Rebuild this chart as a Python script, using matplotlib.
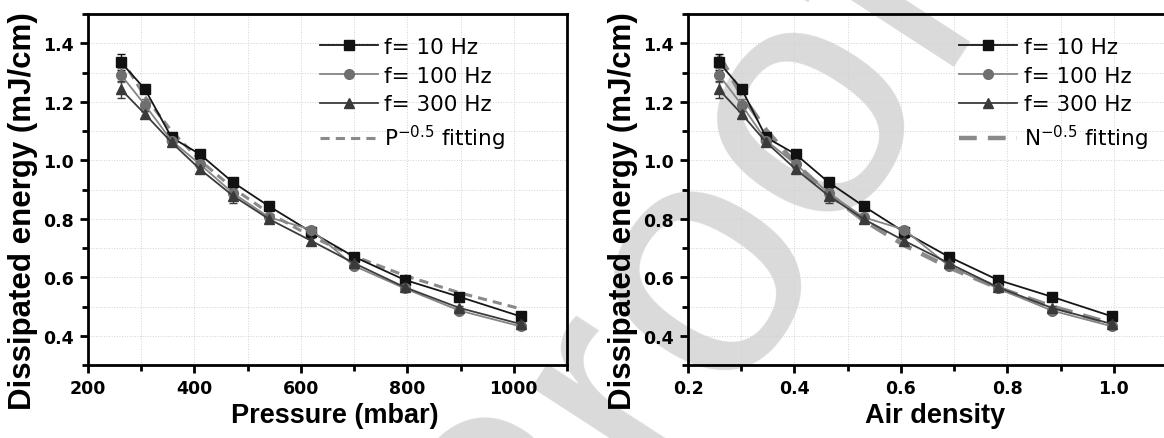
import numpy as np
import matplotlib.pyplot as plt
from matplotlib.ticker import MultipleLocator, FormatStrFormatter

plt.rcParams['font.family'] = ['Liberation Sans', 'DejaVu Sans']
plt.rcParams['mathtext.fontset'] = 'custom'
plt.rcParams['mathtext.rm'] = 'DejaVu Sans'

# measured points
pressure = [262, 307, 357, 410, 472, 540, 619, 700, 795, 898, 1013]
density = [0.258, 0.301, 0.347, 0.402, 0.464, 0.530, 0.606, 0.690, 0.782, 0.884, 0.997]

e_10hz = [1.335, 1.243, 1.078, 1.021, 0.925, 0.843, 0.755, 0.670, 0.591, 0.533, 0.466]
e_100hz = [1.292, 1.189, 1.067, 0.987, 0.888, 0.805, 0.763, 0.639, 0.562, 0.486, 0.432]
e_300hz = [1.242, 1.158, 1.061, 0.970, 0.879, 0.799, 0.725, 0.648, 0.566, 0.495, 0.440]

err_10hz = [0.028, 0.010, 0.015, 0.010, 0.010, 0.010, 0.010, 0.008, 0.008, 0.008, 0.008]
err_100hz = [0.025, 0.020, 0.015, 0.012, 0.012, 0.010, 0.010, 0.008, 0.008, 0.008, 0.008]
err_300hz = [0.030, 0.012, 0.012, 0.012, 0.025, 0.010, 0.010, 0.008, 0.008, 0.008, 0.008]

# fitted curves evaluated at the measurement positions
fit_p = [1.350, 1.217, 1.100, 1.000, 0.905, 0.820, 0.740, 0.672, 0.606, 0.547, 0.492]
fit_n = [1.360, 1.222, 1.103, 0.988, 0.885, 0.795, 0.710, 0.634, 0.564, 0.500, 0.441]

W, H = 1164, 439
fig = plt.figure(figsize=(W / 100, H / 100), dpi=100)

# light "Proof" stamp behind both panels
fig.text(535 / W, -232 / H, 'Proof', fontsize=245, color='#dadada',
         rotation=57, rotation_mode='anchor', ha='left', va='baseline',
         zorder=-1)

ax1 = fig.add_axes([88 / W, 73 / H, 479 / W, 351 / H])
ax2 = fig.add_axes([688 / W, 73 / H, 479 / W, 351 / H])

series = [
    (e_10hz, err_10hz, 's', '#161616', '#111111', 'f= 10 Hz', 6.5),
    (e_100hz, err_100hz, 'o', '#858585', '#6f6f6f', 'f= 100 Hz', 7),
    (e_300hz, err_300hz, '^', '#3c3c3c', '#3a3a3a', 'f= 300 Hz', 7.5),
]

tick_font = dict(family='DejaVu Sans', weight='bold', size=12.5)

def style_axes(ax):
    ax.set_facecolor('none')
    ax.set_ylim(0.3, 1.5)
    ax.yaxis.set_major_locator(MultipleLocator(0.2))
    ax.yaxis.set_minor_locator(MultipleLocator(0.1))
    ax.yaxis.set_major_formatter(FormatStrFormatter('%.1f'))
    ax.grid(True, which='both', color='#d2d2d2', linestyle=':', linewidth=0.7)
    for s in ax.spines.values():
        s.set_linewidth(2.0)
    ax.tick_params(which='both', direction='out', width=2.0, pad=4,
                   top=False, right=False)
    ax.tick_params(which='major', length=6)
    ax.tick_params(which='minor', length=4)
    ax.set_ylabel('Dissipated energy (mJ/cm)', fontsize=22.5, fontweight='bold')

for ax, xs, fit, fit_label, fit_lw, dash in [
        (ax1, pressure, fit_p, r'P$^{\mathregular{-0.5}}$ fitting', 2.2, (3, 2)),
        (ax2, density, fit_n, r'N$^{\mathregular{-0.5}}$ fitting', 3.2, (4, 2.5))]:
    for ys, err, mk, lc, mc, lab, ms in series:
        ax.errorbar(xs, ys, yerr=err, fmt='none', ecolor=mc, elinewidth=1.0,
                    capsize=3, capthick=1.0, zorder=3)
        ax.plot(xs, ys, color=lc, lw=1.3, marker=mk, ms=ms, mfc=mc, mec=mc,
                label=lab, zorder=4)
    ax.plot(xs, fit, color='#8a8a8a', lw=fit_lw, linestyle=(0, dash),
            label=fit_label, zorder=2)
    style_axes(ax)

ax1.set_xlim(200, 1100)
ax1.xaxis.set_major_locator(MultipleLocator(200))
ax1.xaxis.set_minor_locator(MultipleLocator(100))
ax1.set_xlabel('Pressure (mbar)', fontsize=19.5, fontweight='bold')

ax2.set_xlim(0.2, 1.1)
ax2.xaxis.set_major_locator(MultipleLocator(0.2))
ax2.xaxis.set_minor_locator(MultipleLocator(0.1))
ax2.xaxis.set_major_formatter(FormatStrFormatter('%.1f'))
ax2.set_xlabel('Air density', fontsize=19.5, fontweight='bold')

for ax in (ax1, ax2):
    for lab in ax.get_xticklabels() + ax.get_yticklabels():
        lab.set_fontproperties(tick_font)
    ax.yaxis.set_label_coords(-0.104, 0.44)
    ax.xaxis.set_label_coords(0.515, -0.105)

leg_opts = dict(loc='upper left', frameon=False,
                prop=dict(family='DejaVu Sans', size=15.5),
                handlelength=2.7, handletextpad=0.3, labelspacing=0.41,
                borderpad=0, borderaxespad=0)
ax1.legend(bbox_to_anchor=(0.484, 0.935), **leg_opts)
ax2.legend(bbox_to_anchor=(0.566, 0.935), **leg_opts)

fig.savefig('out.png', dpi=100)
